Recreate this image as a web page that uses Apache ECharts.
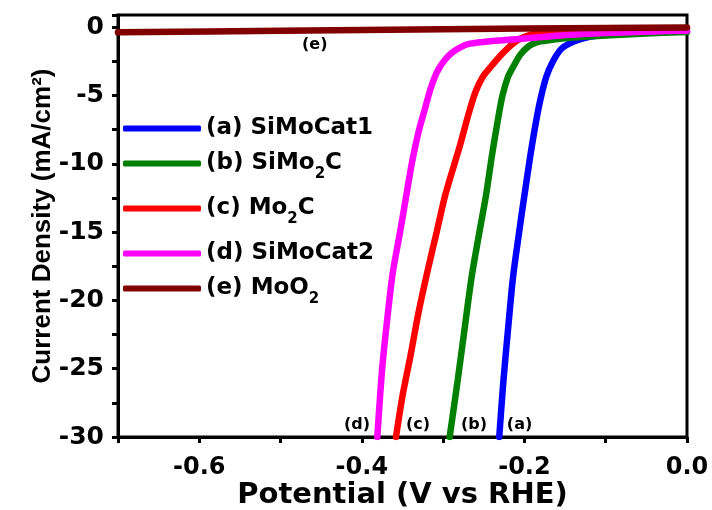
<!DOCTYPE html>
<html>
<head>
<meta charset="utf-8">
<script src="https://cdn.jsdelivr.net/npm/echarts@6/dist/echarts.min.js"></script>
<style>html,body{margin:0;padding:0;background:#fff}#c{width:712px;height:510px}</style>
</head>
<body>
<div id="c"></div>
<script>
// ---- data (x: V vs RHE, y: mA/cm^2) ----
const seriesNames = ['(a) SiMoCat1', '(b) SiMo2C', '(c) Mo2C', '(d) SiMoCat2', '(e) MoO2'];
const legendLabels = ['(a) SiMoCat1', '(b) SiMo{sub|2}C', '(c) Mo{sub|2}C', '(d) SiMoCat2', '(e) MoO{sub|2}'];
const seriesColors = ['#0000ff', '#008000', '#ff0000', '#ff00ff', '#800000'];

const curveA = [[0,-0.3],[-0.04,-0.35],[-0.08,-0.45],[-0.11,-0.6],[-0.13,-0.85],[-0.145,-1.2],[-0.155,-1.6],[-0.165,-2.5],[-0.173,-3.6],[-0.18,-5.2],[-0.186,-7.0],[-0.193,-9.5],[-0.2,-12.3],[-0.207,-15.2],[-0.214,-18.3],[-0.22,-22],[-0.226,-26],[-0.231,-30]];
const curveB = [[0,-0.35],[-0.05,-0.45],[-0.1,-0.6],[-0.14,-0.75],[-0.17,-0.95],[-0.185,-1.1],[-0.195,-1.4],[-0.205,-2.0],[-0.213,-2.8],[-0.22,-3.6],[-0.227,-5.0],[-0.233,-6.9],[-0.24,-9.4],[-0.247,-12.2],[-0.256,-15.2],[-0.265,-18.3],[-0.273,-21.8],[-0.282,-25.8],[-0.292,-30]];
const curveC = [[0,-0.1],[-0.05,-0.12],[-0.1,-0.15],[-0.15,-0.2],[-0.18,-0.35],[-0.2,-0.7],[-0.21,-1.0],[-0.22,-1.5],[-0.23,-2.1],[-0.24,-2.8],[-0.251,-3.6],[-0.26,-4.7],[-0.268,-6.2],[-0.28,-8.8],[-0.297,-12.2],[-0.308,-15],[-0.319,-17.8],[-0.33,-20.8],[-0.34,-24],[-0.35,-27],[-0.358,-30]];
const curveD = [[0,-0.25],[-0.04,-0.3],[-0.08,-0.38],[-0.12,-0.48],[-0.156,-0.6],[-0.2,-0.82],[-0.24,-1.0],[-0.267,-1.2],[-0.28,-1.5],[-0.29,-1.9],[-0.298,-2.4],[-0.305,-3.0],[-0.31,-3.6],[-0.316,-4.6],[-0.323,-6.1],[-0.33,-7.6],[-0.338,-9.8],[-0.345,-12.2],[-0.353,-15],[-0.362,-18],[-0.369,-21.5],[-0.375,-25],[-0.381,-30]];
const curveE = [[-0.7,-0.37],[-0.5,-0.25],[-0.3,-0.14],[-0.1,-0.05],[0,-0.02]];
const curves = [curveA, curveB, curveC, curveD, curveE];

const annoText = ['(a)', '(b)', '(c)', '(d)', '(e)'];
const annoX = [-0.206, -0.262, -0.331, -0.406, -0.458];
const annoY = [-29.1, -29.1, -29.1, -29.1, -1.32];

const xMin = -0.7, xMax = 0, xStep = 0.1;
const yMin = -30, yMax = 0.9, yStep = 2.5;

// ---- chart ----
const F = 'DejaVu Sans';
const chart = echarts.init(document.getElementById('c'));
const legendTops = [117, 152, 197, 242, 277];
const subRich = {
  sub: { fontSize: 15, fontWeight: 'bold', fontFamily: F, color: '#000', padding: [21, 0, 0, 0] }
};
const legends = seriesNames.map((n, i) => ({
  data: [{ name: n, icon: 'roundRect' }],
  orient: 'vertical',
  left: 123,
  top: legendTops[i],
  padding: 0,
  itemWidth: 78,
  itemHeight: 6,
  itemGap: 0,
  selectedMode: false,
  formatter: () => legendLabels[i],
  itemStyle: { borderWidth: 0 },
  textStyle: { fontFamily: F, fontWeight: 'bold', fontSize: 23, color: '#000', rich: subRich }
}));

const series = curves.map((d, i) => ({
  name: seriesNames[i],
  type: 'line',
  data: d,
  symbol: 'none',
  smooth: 0.3,
  color: seriesColors[i],
  lineStyle: { width: 6.5, color: seriesColors[i], cap: 'round' },
  z: 2 + i
}));
series.push({
  name: 'labels',
  type: 'scatter',
  symbolSize: 0,
  silent: true,
  data: annoText.map((t, i) => [annoX[i], annoY[i], t]),
  label: {
    show: true, position: 'inside',
    formatter: p => p.data[2],
    fontFamily: F, fontWeight: 'bold', fontSize: 16, color: '#000',
    textBorderWidth: 0, opacity: 1
  },
  z: 10
});

chart.setOption({
  animation: false,
  backgroundColor: '#fff',
  grid: { left: 118, right: 25, top: 15, bottom: 73, show: true, borderColor: '#000', borderWidth: 3, containLabel: false, outerBoundsMode: 'none' },
  legend: legends,
  xAxis: {
    type: 'value', min: xMin, max: xMax, interval: xStep,
    name: 'Potential (V vs RHE)', nameLocation: 'middle', nameGap: 44, nameMoveOverlap: false,
    nameTextStyle: { fontFamily: F, fontWeight: 'bold', fontSize: 29, color: '#000' },
    axisLine: { show: true, onZero: false, lineStyle: { color: '#000', width: 3 } },
    axisTick: { show: true, inside: false, length: 6, lineStyle: { color: '#000', width: 3 } },
    splitLine: { show: false },
    axisLabel: {
      margin: 19, fontFamily: F, fontWeight: 'bold', fontSize: 24, color: '#000',
      formatter: v => (Math.round(v * 10) % 2 === 0 ? v.toFixed(1) : '')
    }
  },
  yAxis: {
    type: 'value', min: yMin, max: yMax, interval: yStep,
    name: 'Current Density (mA/cm²)', nameLocation: 'middle', nameGap: 62, nameRotate: 90, nameMoveOverlap: false,
    nameTextStyle: { fontFamily: 'Liberation Sans', fontWeight: 'bold', fontSize: 26, color: '#000' },
    axisLine: { show: true, onZero: false, lineStyle: { color: '#000', width: 3 } },
    axisTick: { show: true, inside: false, length: 6, lineStyle: { color: '#000', width: 3 } },
    splitLine: { show: false },
    axisLabel: {
      margin: 14, fontFamily: F, fontWeight: 'bold', fontSize: 25, color: '#000',
      formatter: v => (Math.abs(v % 5) < 1e-9 ? String(Math.round(v)) : '')
    }
  },
  series: series
});
</script>
</body>
</html>
